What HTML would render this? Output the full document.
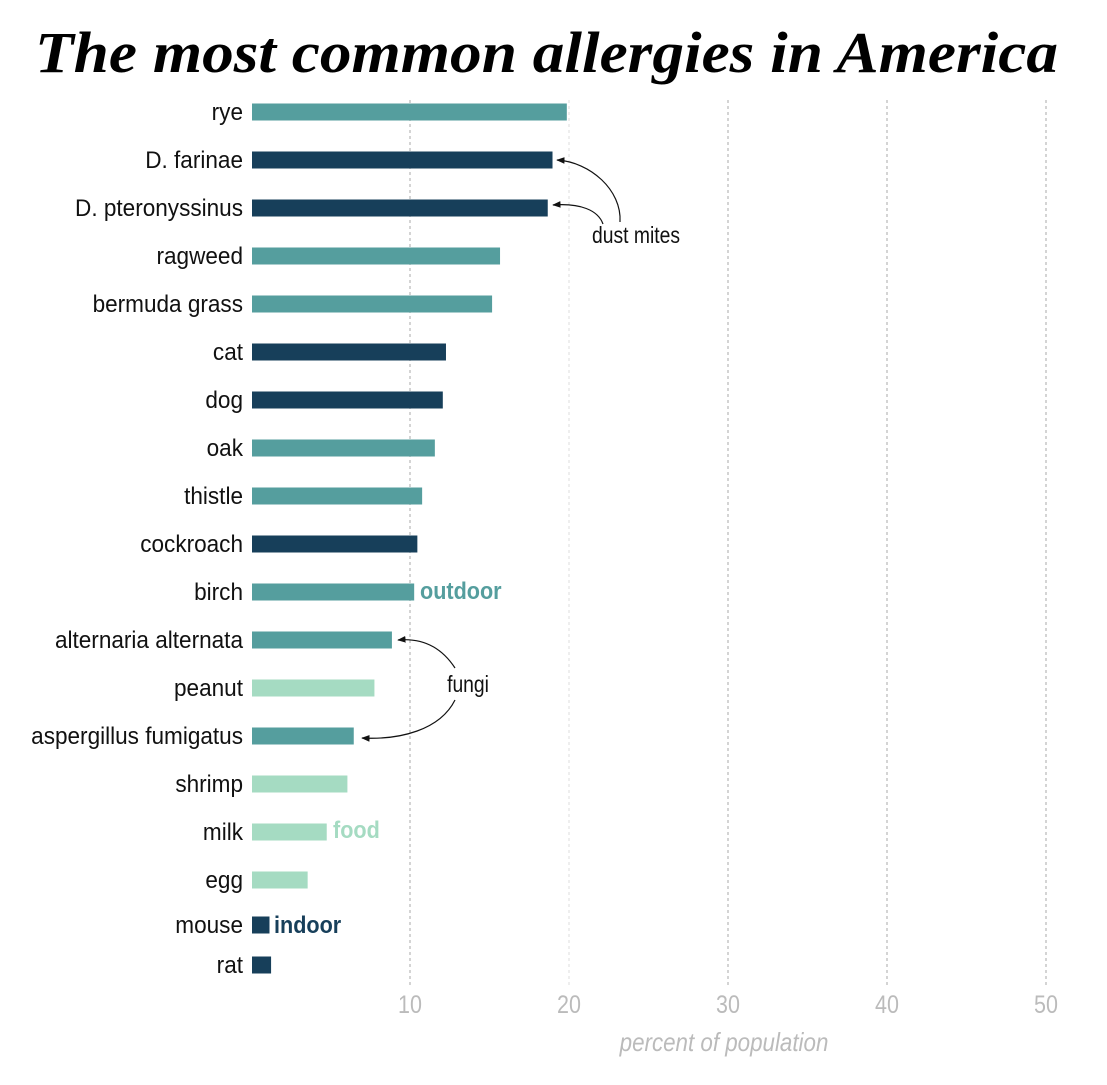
<!DOCTYPE html>
<html><head><meta charset="utf-8">
<style>
html,body{margin:0;padding:0;background:#fff;}
svg text{font-family:"Liberation Sans",sans-serif;}
</style></head>
<body>
<svg id="chart" width="1107" height="1080" viewBox="0 0 1107 1080" xmlns="http://www.w3.org/2000/svg">
<defs><marker id="ah" viewBox="0 0 10 10" refX="9" refY="5" markerWidth="7" markerHeight="7" orient="auto"><path d="M0,1 L10,5 L0,9 z" fill="#111"/></marker></defs>
<text x="35" y="72" textLength="1023" lengthAdjust="spacingAndGlyphs" style="font-family:'Liberation Serif',serif;font-weight:bold;font-style:italic;font-size:58px;" fill="#000">The most common allergies in America</text>
<g id="grid"></g>
<g id="bars"></g>
<g id="labels"></g>
<text transform="translate(724,1051) scale(0.86,1)" text-anchor="middle" font-size="26" font-style="italic" fill="#bbb">percent of population</text>
<text transform="translate(420,599) scale(0.9,1)" font-size="24" font-weight="bold" fill="#559e9e">outdoor</text>
<text transform="translate(333,838) scale(0.9,1)" font-size="24" font-weight="bold" fill="#a5dbc2">food</text>
<text transform="translate(274,933) scale(0.9,1)" font-size="24" font-weight="bold" fill="#173f5a">indoor</text>
<text transform="translate(636,243) scale(0.84,1)" text-anchor="middle" font-size="23" fill="#111">dust mites</text>
<path d="M620,222 C622,190 590,162 557,160" fill="none" stroke="#111" stroke-width="1.2" marker-end="url(#ah)"/>
<path d="M603,224 C598,210 580,203 553,205" fill="none" stroke="#111" stroke-width="1.2" marker-end="url(#ah)"/>
<text transform="translate(468,692) scale(0.84,1)" text-anchor="middle" font-size="23" fill="#111">fungi</text>
<path d="M455,668 C440,645 420,638 398,640" fill="none" stroke="#111" stroke-width="1.2" marker-end="url(#ah)"/>
<path d="M455,700 C440,730 400,740 362,738" fill="none" stroke="#111" stroke-width="1.2" marker-end="url(#ah)"/>
</svg>
<script>
const categories=["rye","D. farinae","D. pteronyssinus","ragweed","bermuda grass","cat","dog","oak","thistle","cockroach","birch","alternaria alternata","peanut","aspergillus fumigatus","shrimp","milk","egg","mouse","rat"];
const values=[19.8,18.9,18.6,15.6,15.1,12.2,12.0,11.5,10.7,10.4,10.2,8.8,7.7,6.4,6.0,4.7,3.5,1.1,1.2];
const groups=["outdoor","indoor","indoor","outdoor","outdoor","indoor","indoor","outdoor","outdoor","indoor","outdoor","outdoor","food","outdoor","food","food","food","indoor","indoor"];
const tickValues=[10,20,30,40,50];
const colors={outdoor:"#559e9e",indoor:"#173f5a",food:"#a5dbc2"};
const NS="http://www.w3.org/2000/svg";
const x=v=>252+v*15.9;
const y=i=>i<17?112+i*48:(i===17?925:965);
const grid=document.getElementById('grid'),bars=document.getElementById('bars'),labels=document.getElementById('labels');
tickValues.forEach(t=>{
 const l=document.createElementNS(NS,'line');
 
 
 l.setAttribute('x1',x(t)-1);l.setAttribute('x2',x(t)-1);l.setAttribute('y1',100);l.setAttribute('y2',988);
 l.setAttribute('stroke',t===20?'#ddd':'#aaa');l.setAttribute('stroke-dasharray','3,3');l.setAttribute('stroke-width','1');
 grid.appendChild(l);
 const tx=document.createElementNS(NS,'text');
 
 
 tx.setAttribute('transform','translate('+(x(t)-1)+',1013) scale(0.86,1)');tx.setAttribute('text-anchor','middle');
 tx.setAttribute('font-size','25');tx.setAttribute('fill','#bbb');tx.textContent=t;
 grid.appendChild(tx);
});
categories.forEach((c,i)=>{
 const r=document.createElementNS(NS,'rect');
 
 
 r.setAttribute('x',252);r.setAttribute('y',y(i)-8.5);r.setAttribute('width',x(values[i])-252);r.setAttribute('height',17);
 r.setAttribute('fill',colors[groups[i]]);
 bars.appendChild(r);
 const t=document.createElementNS(NS,'text');
 
 
 t.setAttribute('transform','translate(243,'+(y(i)+8)+') scale(0.94,1)');t.setAttribute('text-anchor','end');
 t.setAttribute('font-size','24');t.setAttribute('fill','#111');t.textContent=c;
 labels.appendChild(t);
});
</script>
</body></html>
